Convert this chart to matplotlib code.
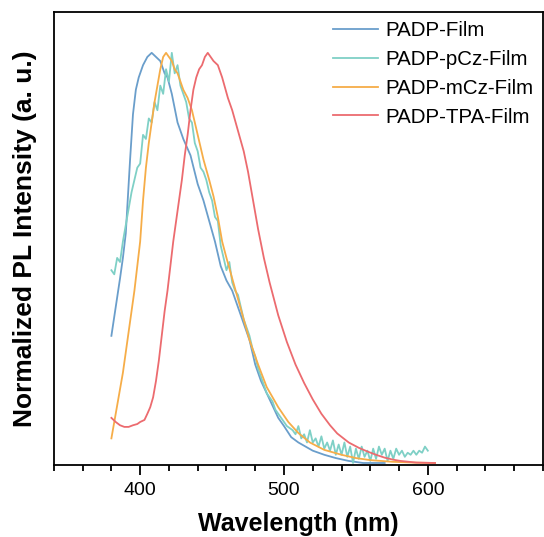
import numpy as np
import matplotlib.pyplot as plt

plt.rcParams['font.family'] = ['Liberation Sans', 'DejaVu Sans']

# PADP-Film
wl_film = [380, 383, 386, 388, 390, 392, 393, 395, 397, 399, 402, 405, 408, 411, 414, 417,
           419, 422, 426, 430, 435, 440, 444, 448, 452, 456, 460, 464, 468, 472, 476, 480,
           484, 488, 492, 496, 500, 505, 510, 515, 520, 528, 536, 545, 555, 570]
pl_film = [0.31, 0.38, 0.45, 0.50, 0.56, 0.68, 0.74, 0.85, 0.91, 0.94, 0.97, 0.99, 1.00, 0.99,
           0.98, 0.95, 0.94, 0.90, 0.83, 0.79, 0.75, 0.68, 0.64, 0.59, 0.54, 0.48, 0.445, 0.42,
           0.38, 0.34, 0.30, 0.24, 0.20, 0.17, 0.14, 0.11, 0.09, 0.063, 0.05, 0.04, 0.03, 0.02,
           0.012, 0.005, 0.0, 0.0]

# PADP-pCz-Film (noisy)
wl_pcz = list(range(380, 602, 2))
pl_pcz = [0.47, 0.46, 0.50, 0.49, 0.54, 0.58, 0.62, 0.66, 0.69, 0.72, 0.73, 0.80, 0.79, 0.84,
          0.83, 0.88, 0.86, 0.92, 0.90, 0.96, 0.93, 1.00, 0.95, 0.97, 0.92, 0.90, 0.88, 0.84,
          0.83, 0.78, 0.76, 0.72, 0.71, 0.69, 0.66, 0.64, 0.60, 0.59, 0.53, 0.50, 0.47, 0.49,
          0.44, 0.42, 0.41, 0.38, 0.35, 0.33, 0.31, 0.28, 0.26, 0.23, 0.21, 0.19, 0.17, 0.16,
          0.15, 0.13, 0.12, 0.11, 0.10, 0.09, 0.085, 0.08, 0.07, 0.09, 0.06, 0.07, 0.05, 0.08,
          0.05, 0.06, 0.04, 0.065, 0.035, 0.05, 0.03, 0.055, 0.02, 0.045, 0.02, 0.05, 0.015,
          0.04, 0.00, 0.035, 0.01, 0.04, 0.015, 0.03, 0.005, 0.035, 0.01, 0.04, 0.02, 0.035,
          0.005, 0.03, 0.01, 0.035, 0.02, 0.03, 0.015, 0.025, 0.02, 0.03, 0.02, 0.03, 0.025,
          0.04, 0.03]

# PADP-mCz-Film
wl_mcz = [380, 382, 384, 386, 388, 390, 392, 394, 396, 398, 400, 402, 404, 406, 408, 410,
          412, 414, 416, 418, 420, 422, 424, 426, 428, 430, 433, 436, 438, 440, 442, 444,
          448, 451, 454, 457, 460, 464, 468, 472, 476, 482, 488, 496, 503, 510, 518, 528,
          540, 550, 560, 575, 590, 605]
pl_mcz = [0.06, 0.10, 0.14, 0.18, 0.22, 0.27, 0.32, 0.37, 0.42, 0.48, 0.54, 0.64, 0.72, 0.78,
          0.83, 0.88, 0.92, 0.96, 0.99, 1.00, 0.99, 0.98, 0.96, 0.95, 0.93, 0.91, 0.89, 0.86,
          0.83, 0.80, 0.77, 0.74, 0.69, 0.65, 0.60, 0.54, 0.50, 0.45, 0.40, 0.35, 0.30, 0.24,
          0.185, 0.136, 0.10, 0.073, 0.05, 0.032, 0.02, 0.012, 0.007, 0.003, 0.001, 0.0]

# PADP-TPA-Film
wl_tpa = [380, 383, 386, 389, 392, 395, 398, 400, 403, 405, 407, 409, 411, 413, 415, 417,
          419, 421, 423, 425, 427, 429, 431, 433, 435, 437, 439, 441, 443, 445, 447, 449,
          451, 454, 457, 461, 464, 468, 472, 475, 478, 482, 486, 490, 496, 502, 508, 514,
          520, 526, 532, 537, 545, 552, 558, 564, 570, 576, 581, 592, 605]
pl_tpa = [0.11, 0.10, 0.092, 0.088, 0.088, 0.092, 0.095, 0.10, 0.105, 0.12, 0.136, 0.16,
          0.20, 0.25, 0.31, 0.37, 0.42, 0.48, 0.54, 0.59, 0.64, 0.69, 0.75, 0.80, 0.86, 0.91,
          0.94, 0.96, 0.97, 0.99, 1.00, 0.99, 0.98, 0.97, 0.94, 0.89, 0.86, 0.81, 0.76, 0.71,
          0.65, 0.57, 0.50, 0.44, 0.36, 0.295, 0.24, 0.195, 0.155, 0.12, 0.092, 0.072, 0.05,
          0.037, 0.028, 0.02, 0.013, 0.008, 0.005, 0.001, 0.0]

labels = ['PADP-Film', 'PADP-pCz-Film', 'PADP-mCz-Film', 'PADP-TPA-Film']
colors = ['#6a9ecb', '#7fd0c6', '#f6ad48', '#ec6b6f']

fig = plt.figure(figsize=(5.44, 5.37), dpi=100)
ax = fig.add_axes([0.099, 0.134, 0.899, 0.844])

series = [(wl_film, pl_film), (wl_pcz, pl_pcz), (wl_mcz, pl_mcz), (wl_tpa, pl_tpa)]
for (x, y), lab, c in zip(series, labels, colors):
    ax.plot(x, y, color=c, lw=1.3, label=lab)

ax.set_xlim(340, 680)
ax.set_ylim(-0.005, 1.1)
ax.set_xticks([400, 500, 600])
ax.set_xticks(np.arange(340, 681, 20), minor=True)
ax.set_yticks([])
ax.tick_params(axis='x', which='major', direction='out', length=7, width=1.3,
               labelsize=14, pad=5.5, top=False)
ax.tick_params(axis='x', which='minor', direction='out', length=4.5, width=1.3, top=False)
for s in ax.spines.values():
    s.set_linewidth(1.3)

ax.set_xlabel('Wavelength (nm)', fontsize=18, fontweight='bold', labelpad=9)
ax.set_ylabel('Normalized PL Intensity (a. u.)', fontsize=19, fontweight='bold', labelpad=12)

ax.legend(loc='upper right', frameon=False, fontsize=14.8, handlelength=2.2,
          labelspacing=0.48, handletextpad=0.35, borderaxespad=0.05)

fig.savefig('out.png', dpi=100)
